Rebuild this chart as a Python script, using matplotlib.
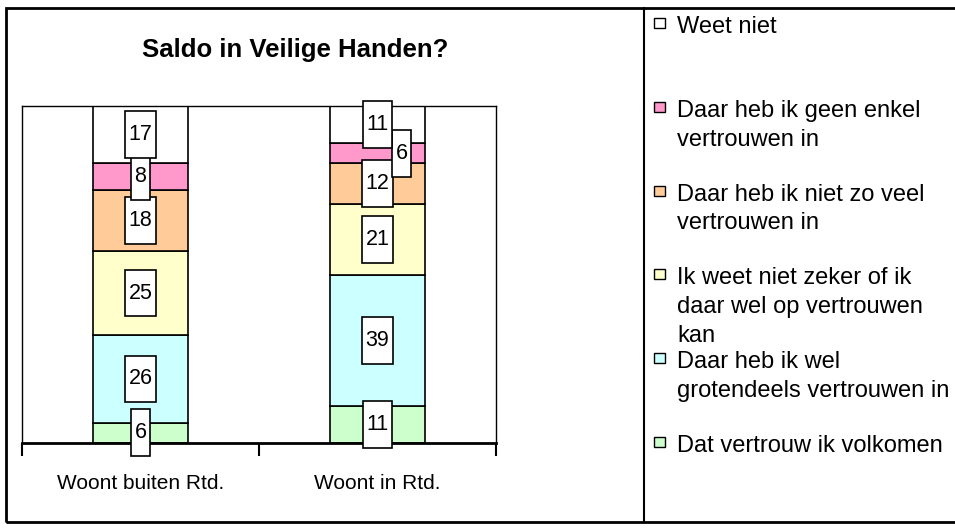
import numpy as np
import matplotlib
matplotlib.use("Agg")
import matplotlib.pyplot as plt
import matplotlib.patches as mpatches
from matplotlib.lines import Line2D
from matplotlib.path import Path

plt.rcParams['font.family'] = ['Liberation Sans', 'DejaVu Sans']

# data, bottom segment first
categories = ["Woont buiten Rtd.", "Woont in Rtd."]
series_names = [
    "Dat vertrouw ik volkomen",
    "Daar heb ik wel\ngrotendeels vertrouwen in",
    "Ik weet niet zeker of ik\ndaar wel op vertrouwen\nkan",
    "Daar heb ik niet zo veel\nvertrouwen in",
    "Daar heb ik geen enkel\nvertrouwen in",
    "Weet niet",
]
volkomen = [6, 11]
grotendeels = [26, 39]
niet_zeker = [25, 21]
niet_zo_veel = [18, 12]
geen_enkel = [8, 6]
weet_niet = [17, 11]
series_values = [volkomen, grotendeels, niet_zeker, niet_zo_veel, geen_enkel, weet_niet]

colors = ["#CCFFCC", "#CCFFFF", "#FFFFCC", "#FFCC99", "#FF99CC", "#FFFFFF"]

# label shifted sideways (series index, category index) -> pixels
label_shift = {(4, 1): 24}

W, H = 955, 530


def tall_box(x0, y0, width, height, mutation_size):
    """Excel-like data label box: narrow sides, tall top/bottom."""
    px = 0.17 * mutation_size
    py = 0.6 * mutation_size
    x1, y1 = x0 + width + px, y0 + height + py
    x0, y0 = x0 - px, y0 - py
    return Path([(x0, y0), (x1, y0), (x1, y1), (x0, y1), (x0, y0)], closed=True)


fig = plt.figure(figsize=(W / 100, H / 100), dpi=100)
ax = fig.add_axes([22 / W, 1 - 443 / H, (496 - 22) / W, (443 - 106) / H])

x = np.arange(len(categories))
bottom = np.zeros(len(categories))
for s, (name, vals, col) in enumerate(zip(series_names, series_values, colors)):
    ax.bar(x, vals, 0.4, bottom=bottom, color=col, edgecolor="black",
           linewidth=1.2, zorder=2)
    for c, (xi, v, b) in enumerate(zip(x, vals, bottom)):
        ax.annotate(str(v), (xi, b + v / 2), xytext=(label_shift.get((s, c), 0), 0),
                    textcoords="offset pixels", ha="center", va="center",
                    fontsize=15.5, zorder=5, annotation_clip=False,
                    bbox=dict(boxstyle=tall_box, fc="white", ec="black", lw=1.2))
    bottom += vals

ax.set_xlim(-0.5, 1.5)
ax.set_ylim(0, 100)
ax.set_yticks([])
ax.set_xticks([-0.5, 0.5, 1.5])
ax.set_xticklabels([])
ax.tick_params(axis="x", which="major", direction="out", length=9, width=1.5)
ax.set_xticks(x, minor=True)
ax.set_xticklabels(categories, minor=True, fontsize=15)
ax.tick_params(axis="x", which="minor", length=0, pad=22)
for side in ["left", "top", "right"]:
    ax.spines[side].set_linewidth(1)
ax.spines["bottom"].set_linewidth(2)

fig.text(295 / W, 1 - 50 / H, "Saldo in Veilige Handen?", ha="center",
         va="center", fontsize=18.5, fontweight="bold")

# outer frame and legend divider
fig.add_artist(mpatches.Rectangle((6 / W, 8 / H), 1.0, 1 - 16 / H, fill=False,
                                  ec="black", lw=2, transform=fig.transFigure))
fig.add_artist(Line2D([644 / W, 644 / W], [8 / H, 1 - 8 / H], color="black",
                      lw=1.5, transform=fig.transFigure))

# legend, top entry first, evenly spaced like Excel
for i, (name, col) in enumerate(zip(series_names[::-1], colors[::-1])):
    top = 16 + i * 83.8
    fig.add_artist(mpatches.Rectangle((654 / W, 1 - (top + 12) / H), 11 / W, 10 / H,
                                      fc=col, ec="black", lw=1,
                                      transform=fig.transFigure))
    fig.text(677 / W, 1 - top / H, name, ha="left", va="top", fontsize=17,
             linespacing=1.4)

fig.savefig("out.png", dpi=100)
